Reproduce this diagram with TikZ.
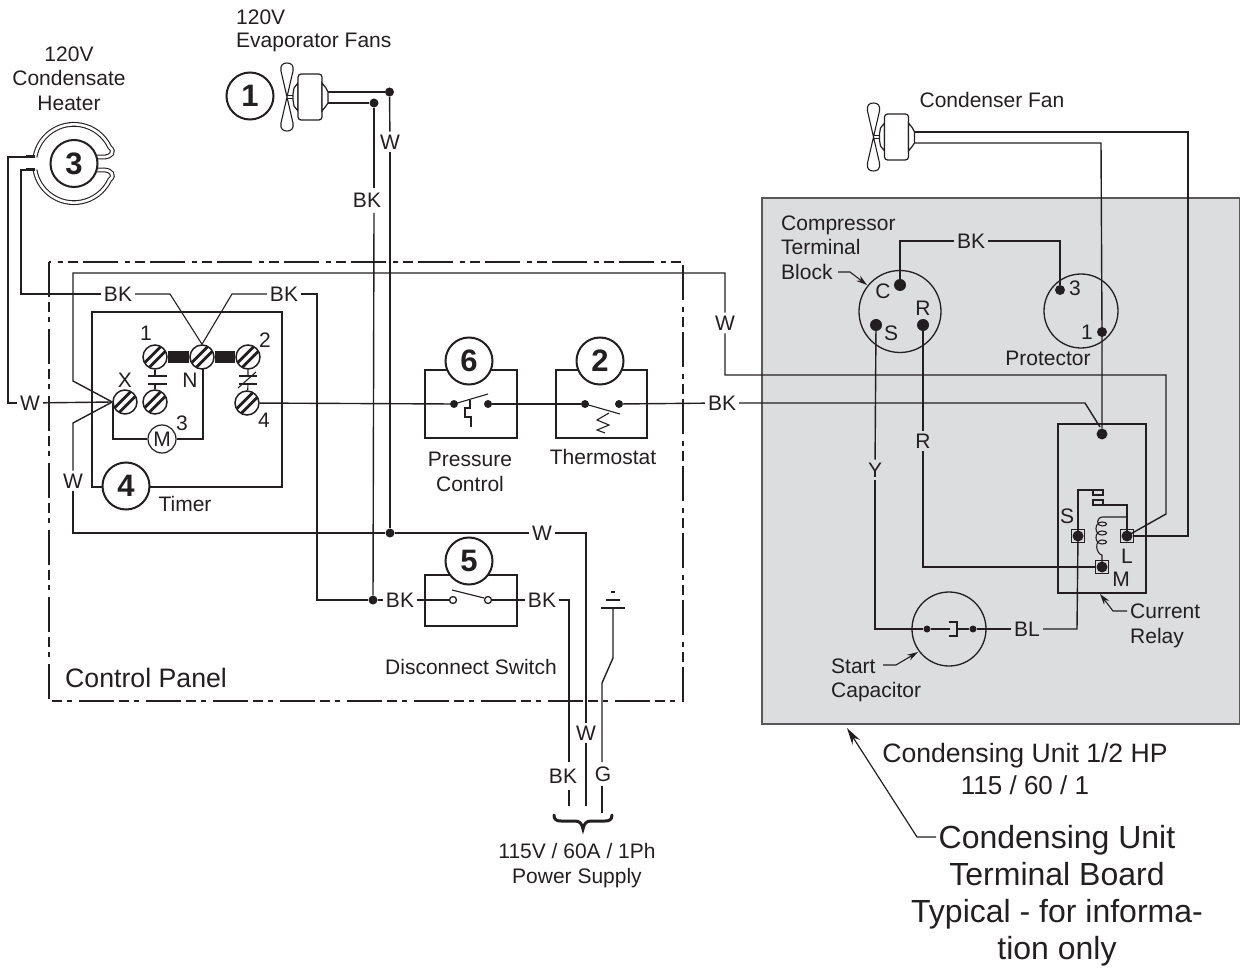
\documentclass[tikz,border=0pt]{standalone}
\usepackage{fontspec}
\setmainfont{Liberation Sans}
\usetikzlibrary{arrows.meta}
\definecolor{unitgray}{HTML}{DCDDDF}
\definecolor{ink}{HTML}{231F20}
\newcommand{\fs}[1]{\fontsize{#1}{#1}\selectfont}
\tikzset{
  wire/.style={line width=1.4pt,draw=ink},
  thin wire/.style={line width=1.1pt,draw=ink},
  lab/.style={inner sep=1.5pt,text=ink,font=\fs{21}},
  wirelab/.style={inner sep=3pt,text=ink,font=\fs{21}},
  biglab/.style={inner sep=0pt,text=ink,font=\fs{32},align=center},
  numc/.style={circle,draw=ink,line width=2pt,fill=white,minimum size=47pt,inner sep=0pt,font=\fs{31}\bfseries,text=ink},
  dot/.style={circle,fill=ink,draw=none,minimum size=#1,inner sep=0pt},
  dot/.default=11pt,
  odot/.style={circle,draw=ink,line width=1.3pt,fill=white,minimum size=7pt,inner sep=0pt},
  termsq/.style={rectangle,draw=ink,line width=1.2pt,minimum size=13pt,inner sep=0pt},
  screw/.style={circle,draw=ink,line width=1.5pt,fill=white,minimum size=24pt,inner sep=0pt,
    path picture={
      \draw[ink,line width=2.7pt] ([shift={(-10.7pt,-15.3pt)}]path picture bounding box.center) -- ++(26pt,26pt);
      \draw[ink,line width=2.7pt] ([shift={(-15.3pt,-10.7pt)}]path picture bounding box.center) -- ++(26pt,26pt);
    }},
  leader/.style={line width=1.1pt,draw=ink,-{Stealth[length=11pt,width=6.5pt]}},
  bigleader/.style={line width=1.2pt,draw=ink,-{Stealth[length=17pt,width=9pt]}},
  tube/.style={draw=ink,double=white,double distance=2.6pt,line width=1.1pt},
  fanmotor/.pic={
    \draw[ink,line width=1.1pt,fill=white] (0,0) -- (-6,-26)
      .. controls (-7,-32) and (-4,-34) .. (0,-34) .. controls (4,-34) and (7,-32) .. (6,-26) -- (0,0)
      -- (6,26) .. controls (7,32) and (4,34) .. (0,34) .. controls (-4,34) and (-7,32) .. (-6,26) -- cycle;
    \draw[ink,line width=1.1pt] (0,-1.5) -- (6,-1.5) (0,1.5) -- (6,1.5);
    \draw[ink,line width=1.2pt,fill=white] (11,-14) -- (7,-9) -- (6,-3) -- (6,3) -- (7,9) -- (11,14) -- cycle;
    \draw[ink,line width=1.2pt,fill=white,rounded corners=3pt] (11,-23) rectangle (35,23);
    \draw[ink,line width=1.2pt,fill=white] (35,-14) -- (39,-9) -- (41,-5) -- (41,6) -- (39,9) -- (35,14) -- cycle;
    \coordinate (-a) at (41,-5);
    \coordinate (-b) at (41,6);
  }
}
\begin{document}
\begin{tikzpicture}[x=1pt,y=-1pt]
\useasboundingbox (0,0) rectangle (1240,968);
% condensing unit panel
\path[fill=unitgray,draw=ink!75,line width=1.3pt] (762,198) rectangle (1240,724);
% control panel
\draw[ink,line width=1.3pt,dash pattern=on 35pt off 5pt on 10pt off 5pt on 5pt off 7pt] (49,262) rectangle (683,701);

% ---- titles
\node[lab] (t120a) at (69,54) {120V};
\node[lab] (tcond) at (69,78) {Condensate};
\node[lab] (theat) at (69,103) {Heater};
\node[lab,anchor=west,inner sep=0pt] (t120b) at (236,17) {120V};
\node[lab,anchor=west,inner sep=0pt] (tevap) at (236,42) {Evaporator Fans};
\node[lab] (tcf) at (992,100) {Condenser Fan};
\node[lab,anchor=west,inner sep=0pt] (tcomp) at (781,225) {Compressor};
\node[lab,anchor=west,inner sep=0pt] (tterm) at (781,247) {Terminal};
\node[lab,anchor=west,inner sep=0pt] (tblock) at (781,272) {Block};
\node[lab] (tprot) at (1048,358) {Protector};
\node[lab] (tpres) at (470,459) {Pressure};
\node[lab] (tctrl) at (470,484) {Control};
\node[lab] (ttherm) at (603,457) {Thermostat};
\node[lab] (ttimer) at (185,504) {Timer};
\node[lab] (tdisc) at (471,667) {Disconnect Switch};
\node[lab,anchor=west,inner sep=0pt,font=\fs{26.7}] (tpanel) at (65,678) {Control Panel};
\node[lab] (tps1) at (577,851) {115V / 60A / 1Ph};
\node[lab] (tps2) at (577,878) {Power Supply};
\node[lab,anchor=west,inner sep=0pt] (tstart) at (831,666) {Start};
\node[lab,anchor=west,inner sep=0pt] (tcap) at (831,692) {Capacitor};
\node[lab,anchor=west,inner sep=0pt] (tcur) at (1130,611) {Current};
\node[lab,anchor=west,inner sep=0pt] (trel) at (1130,638) {Relay};
\node[lab,font=\fs{26.6}] (tcu1) at (1025,756) {Condensing Unit 1/2 HP};
\node[lab,font=\fs{26}] (tcu2) at (1025,785) {115 / 60 / 1};
\node[biglab] (tb1) at (1057,840) {Condensing Unit};
\node[biglab] (tb2) at (1057,874) {Terminal Board};
\node[biglab] (tb3) at (1057,914) {Typical - for informa-};
\node[biglab] (tb4) at (1057,951) {tion only};
\coordinate (bigstart) at (936,837);
\draw[bigleader] (bigstart) -- (917,837) -- (847,728);

% ---- fans
\pic (evap) at (287,97) {fanmotor};
\pic (cond) at (873.5,137) {fanmotor};
\node[numc] (n1) at (250,96) {1};

% ---- heater
\draw[tube] (35,157) arc[start angle=-170,end angle=-25,radius=39.5] .. controls (116,152) and (110,157) .. (105,157) -- (97,157);
\draw[tube] (35,170) arc[start angle=170,end angle=25,radius=39.5] .. controls (116,175) and (110,170) .. (105,170) -- (97,170);
\node[numc] (n3) at (74,163.5) {3};
\coordinate (h1) at (35,157);
\coordinate (h2) at (35,170);
\draw[ink,line width=3pt] (26,157) -- (h1) (26,170) -- (h2);

% ---- timer
\draw[wire] (92,312) rectangle (282,487);
\node[screw] (T1) at (155,357) {};
\node[screw] (TN) at (202,357) {};
\node[screw] (T2) at (248,357) {};
\node[screw] (TX) at (125,402) {};
\node[screw] (T3) at (155,402) {};
\node[screw] (T4) at (247,403) {};
\draw[ink,line width=12pt] (T1) -- (TN);
\draw[ink,line width=12pt] (TN) -- (T2);
\node[lab] (l1) at (146,333) {1};
\node[lab] (l2) at (265,340) {2};
\node[lab] (lX) at (125,380) {X};
\node[lab] (lN) at (190,380) {N};
\node[lab] (l3) at (182,423) {3};
\node[lab] (l4) at (264,420) {4};
\node[circle,draw=ink,line width=1.2pt,fill=white,minimum size=28pt,inner sep=0pt,text=ink,font=\fs{21}] (M) at (162,439) {M};
\draw[wire] (113,403) -- (113,439) -- (M);
\draw[wire] (M) -- (203,439) -- (203,368);
% NO / NC contacts
\draw[thin wire] (T1) -- (155,376) (155,384) -- (T3);
\draw[wire] (148,376) -- (167,376) (148,384) -- (167,384);
\draw[thin wire] (T2) -- (248,376) (248,384) -- (T4);
\draw[wire] (239,376) -- (257,376) (239,384) -- (257,384);
\draw[thin wire] (238,388) -- (256,372);
\node[numc] (n4) at (126,486) {4};

% ---- switch boxes
\draw[wire] (425,370) rectangle (517,438);
\draw[wire] (556,370) rectangle (647,438);
\draw[wire] (425,575) rectangle (517,626);
\node[numc] (n6) at (469,361) {6};
\node[numc] (n2) at (600,361) {2};
\node[numc] (n5) at (469,561) {5};
\node[dot=8pt] (pc1) at (454,404) {};
\node[dot=8pt] (pc2) at (488,404) {};
\node[dot=8pt] (th1) at (585,404) {};
\node[dot=8pt] (th2) at (619,404) {};
\node[odot] (ds1) at (453,600) {};
\node[odot] (ds2) at (488,600) {};
\draw[thin wire] (pc1.center) -- (488,394);
\draw[thin wire] (470,400) -- (470,408) -- (465,408) -- (465,417) -- (471,417) -- (471,427);
\draw[thin wire] (th1.center) -- (620,414);
\draw[thin wire] (609,413) -- (597,420) -- (609,425) -- (597,430) -- (605,433);
\draw[thin wire] (452,590) -- (484,598);
\draw[wire] (T4) -- (pc1);
\draw[wire] (pc2) -- (th1);

% ---- BK / W wiring, left
\node[wirelab] (wL) at (30,403) {W};
\draw[wire] (h1) -- (8,157) -- (8,403) -- (wL);
\draw[wire] (wL) -- (TX.west);
\node[wirelab] (bkA) at (118,294) {BK};
\node[wirelab] (bkB) at (284,294) {BK};
\draw[wire] (h2) -- (21,170) -- (21,294) -- (bkA);
\draw[thin wire] (bkA) -- (170,294) -- (TN.north);
\draw[thin wire] (TN.north) -- (232,294) -- (bkB);
\node[dot=9pt] (j1) at (373,600) {};
\node[wirelab] (bkC) at (400,600) {BK};
\draw[wire] (bkB) -- (317,294) -- (317,600) -- (j1);
\draw[wire] (j1) -- (bkC);
\draw[wire] (bkC) -- (ds1);
\node[wirelab] (bkD) at (542,600) {BK};
\draw[wire] (ds2) -- (bkD);
\coordinate (bkE1) at (569,762);
\coordinate (bkE2) at (569,790);
\coordinate (bkE3) at (569,806);
\draw[wire] (bkD) -- (569,600) -- (bkE1);
\node[wirelab] (bkE) at (563,776) {BK};
\draw[wire] (bkE2) -- (bkE3);

% W loop across
\node[wirelab] (wTop) at (725,323) {W};
\draw[wire] (TX.west) -- (73,381) -- (73,273) -- (725,273) -- (wTop);
\coordinate (Lin) at (1166,514);
\node[termsq] (RL) at (1127,536) {};
\node[dot] (RLd) at (1127,536) {};
\draw[wire] (wTop) -- (725,375) -- (1166,375) -- (Lin) -- (RLd.center);

\node[wirelab] (wV) at (73,481) {W};
\draw[wire] (TX.west) -- (73,423) -- (wV);
\node[dot=9pt] (j2) at (390,533) {};
\node[wirelab] (wH) at (542,533) {W};
\draw[wire] (wV) -- (73,533) -- (j2);
\draw[wire] (j2) -- (wH);
\node[wirelab] (wS) at (586,733) {W};
\draw[wire] (wH) -- (586,533) -- (wS);
\coordinate (wEnd) at (586,806);
\draw[wire] (wS) -- (wEnd);

% evaporator wires
\node[dot=9pt] (e1) at (389.5,92) {};
\node[dot=9pt] (e2) at (374,103) {};
\draw[wire] (evap-a) -- (e1);
\draw[wire] (evap-b) -- (e2);
\node[wirelab] (wE) at (390,142) {W};
\draw[wire] (e1) -- (wE);
\draw[wire] (wE) -- (j2);
\coordinate (bkF1) at (374,188);
\coordinate (bkF2) at (374,213);
\node[wirelab] (bkF) at (367,200) {BK};
\draw[wire] (e2) -- (bkF1);
\draw[wire] (bkF2) -- (j1);

% ground
\coordinate (gA) at (613,608);
\node[wirelab,inner sep=2pt] (gL) at (603,774) {G};
\coordinate (gB) at (602,762);
\coordinate (gC) at (602,786);
\coordinate (gD) at (602,813);
\draw[wire] (gA) -- (613,658) -- (602,683) -- (gB);
\draw[wire] (gC) -- (gD);
\draw[wire] (601,608) -- (625,608);
\draw[wire] (606,600) -- (620,600);
\draw[wire] (611,592) -- (615,592);
% brace
\draw[ink,line width=3pt,line cap=round] (554,815) .. controls (554,820) and (557,821) .. (561,821) -- (575,821) .. controls (580,821) and (582,824) .. (583,829) .. controls (584,824) and (586,821) .. (591,821) -- (605,821) .. controls (609,821) and (612,820) .. (612,815);

% ---- compressor block
\node[circle,draw=ink,line width=1.3pt,minimum size=82pt,inner sep=0pt] (ctb) at (900,311.5) {};
\node[dot=12pt] (C) at (900,285) {};
\node[dot=12pt] (S) at (876,325) {};
\node[dot=12pt] (R) at (923,325) {};
\node[lab] (lC) at (883,291) {C};
\node[lab] (lR) at (923,308) {R};
\node[lab] (lS) at (891,333) {S};
\node[circle,draw=ink,line width=1.3pt,minimum size=74pt,inner sep=0pt] (prot) at (1081,311) {};
\node[dot=10pt] (P3) at (1060,290) {};
\node[dot=10pt] (P1) at (1102,332) {};
\node[lab] (l3p) at (1075,288) {3};
\node[lab] (l1p) at (1087,332) {1};
\node[wirelab] (bkG) at (971,241) {BK};
\draw[wire] (C) -- (900,241) -- (bkG);
\draw[wire] (bkG) -- (1060,241) -- (P3);
\draw[leader] (838,272) -- (850,272) -- (867,285);

% ---- relay
\draw[wire] (1058,424) rectangle (1146,593);
\node[dot=11pt] (Rtop) at (1102,434) {};
\node[termsq] (RS) at (1078,536) {};
\node[dot] (RSd) at (1078,536) {};
\node[termsq] (RM) at (1102,567) {};
\node[dot] (RMd) at (1102,567) {};
\node[lab] (lS2) at (1067,516) {S};
\node[lab] (lL) at (1127,556) {L};
\node[lab] (lM) at (1121,579) {M};
\draw[thin wire,fill=unitgray] (1093,490) rectangle (1103,495);
\draw[thin wire,fill=unitgray] (1093,500) rectangle (1103,505);
\draw[thin wire] (RSd.center) -- (1078,490) -- (1093,490);
\draw[thin wire] (1103,505) -- (1127,505) -- (RLd.center);
\draw[thin wire] (1127,517) -- (1103,517) .. controls (1096,517) and (1096,526) .. (1102,526)
  .. controls (1108,526) and (1108,522) .. (1102,522) .. controls (1094,522) and (1094,535) .. (1102,535)
  .. controls (1108,535) and (1108,531) .. (1102,531) .. controls (1094,531) and (1094,544) .. (1102,544)
  .. controls (1108,544) and (1108,540) .. (1102,540) .. controls (1094,540) and (1096,554) .. (1102,555) -- (RMd.center);
\draw[leader] (1127,611) -- (1113,611) -- (1100,594);
% fan to relay
\draw[wire] (cond-a) -- (1188,132) -- (1188,536) -- (RLd);
\draw[wire] (cond-b) -- (1101,143) -- (P1.center) -- (Rtop);
\node[wirelab] (bkH) at (722,403) {BK};
\draw[wire] (th2) -- (bkH);
\draw[wire] (bkH) -- (1085,403) -- (1100,427);
% Y / R
\node[wirelab] (yL) at (875,470) {Y};
\node[wirelab] (rL) at (923,441) {R};
\draw[wire] (S) -- (yL);
\draw[wire] (R) -- (rL);
\draw[wire] (rL) -- (923,567) -- (RMd);
% start capacitor
\node[circle,draw=ink,line width=1.3pt,minimum size=74pt,inner sep=0pt] (cap) at (949,629) {};
\node[dot=7pt] (c1) at (927,629) {};
\node[dot=7pt] (c2) at (973,629) {};
\draw[wire] (yL) -- (875,629) -- (c1);
\draw[thin wire] (c1) -- (950,629);
\draw[thin wire] (949,622) -- (957,622) -- (957,636) -- (949,636);
\draw[thin wire] (957,629) -- (c2);
\node[wirelab] (bl) at (1027,629) {BL};
\draw[wire] (c2) -- (bl);
\draw[wire] (bl) -- (1077,629) -- (RSd.center);
\draw[leader] (883,665) -- (896,665) -- (918,652);
\end{tikzpicture}
\end{document}
